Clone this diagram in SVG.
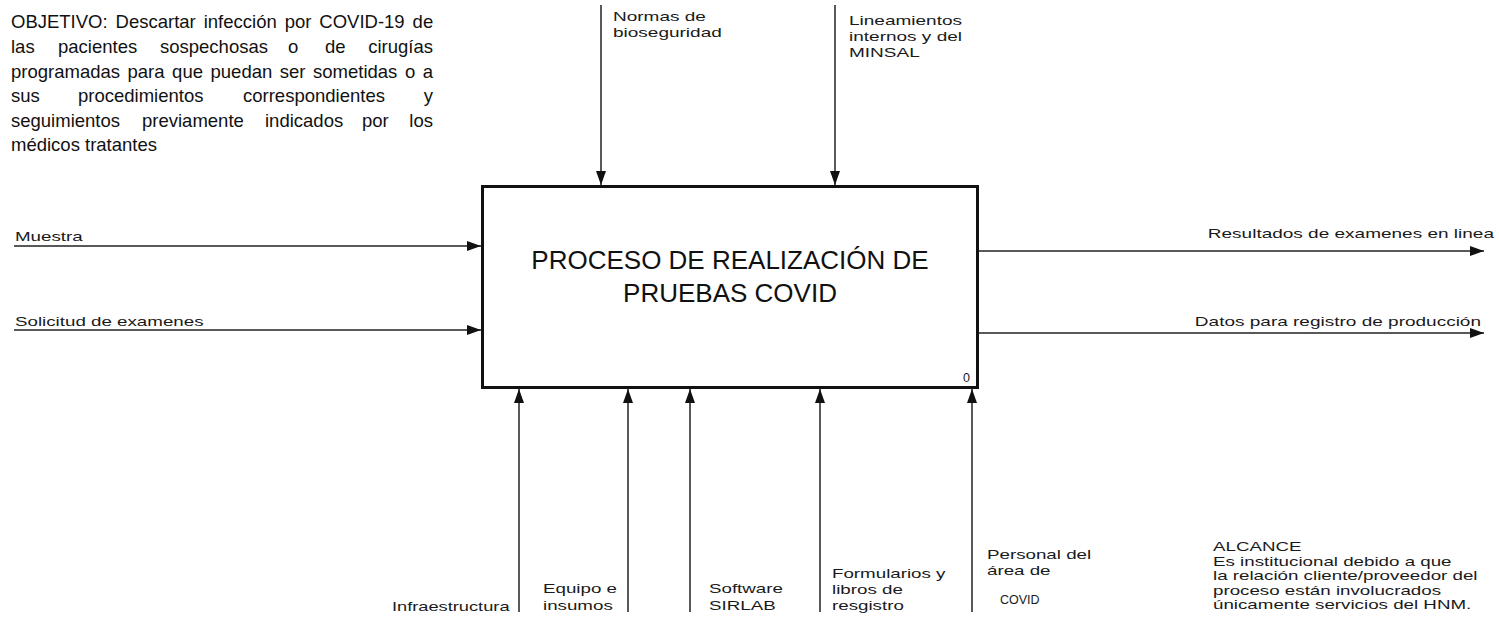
<svg xmlns="http://www.w3.org/2000/svg" width="1499" height="624" viewBox="0 0 1499 624">
<style>
.obj{font-family:"Liberation Sans",Arial,sans-serif;font-size:18.5px;fill:#111;}
.lbl{font-family:"Liberation Sans",Arial,sans-serif;font-size:12.5px;fill:#1a1a1a;}
.title{font-family:"Liberation Sans",Arial,sans-serif;font-size:26px;fill:#111;text-anchor:middle;}
.conn{stroke:#222;stroke-width:1.5;fill:none;}
.box{fill:#fff;stroke:#111;stroke-width:3;}
</style>
<defs>
<marker id="ah" markerUnits="userSpaceOnUse" markerWidth="14" markerHeight="10" refX="14" refY="5" orient="auto" overflow="visible">
<path d="M0,0 L14,5 L0,10 z" fill="#111"/>
</marker>
</defs>
<rect width="1499" height="624" fill="#fff"/>

<g id="objetivo">
<text class="obj" x="11" y="28" word-spacing="2.8">OBJETIVO: Descartar infección por COVID-19 de</text>
<text class="obj" y="53"><tspan x="11">las</tspan><tspan x="58">pacientes</tspan><tspan x="160">sospechosas</tspan><tspan x="288">o</tspan><tspan x="325">de</tspan></text>
<text class="obj" x="433" y="53" text-anchor="end">cirugías</text>
<text class="obj" x="11" y="78" word-spacing="2.4">programadas para que puedan ser sometidas o a</text>
<text class="obj" y="102"><tspan x="11">sus</tspan><tspan x="78">procedimientos</tspan><tspan x="243">correspondientes</tspan></text>
<text class="obj" x="433" y="102" text-anchor="end">y</text>
<text class="obj" y="127"><tspan x="11">seguimientos</tspan><tspan x="142">previamente</tspan><tspan x="265">indicados</tspan><tspan x="362">por</tspan></text>
<text class="obj" x="433" y="127" text-anchor="end">los</text>
<text class="obj" x="11" y="151">médicos tratantes</text>
</g>

<g id="node-process">
<rect class="box" x="482.5" y="186.5" width="495" height="201"/>
<text class="title" x="730" y="269">PROCESO DE REALIZACIÓN DE</text>
<text class="title" x="730" y="302">PRUEBAS COVID</text>
<text class="lbl" x="963" y="382" font-size="13">0</text>
</g>

<g id="connectors">
<g id="ctrl-normas">
<line class="conn" x1="601" y1="5" x2="601" y2="185" marker-end="url(#ah)"/>
<text class="lbl" transform="translate(613 21) scale(1.52 1)"><tspan x="0" y="0">Normas de</tspan><tspan x="0" y="16">bioseguridad</tspan></text>
</g>
<g id="ctrl-lineamientos">
<line class="conn" x1="835" y1="5" x2="835" y2="185" marker-end="url(#ah)"/>
<text class="lbl" transform="translate(849 25) scale(1.52 1)"><tspan x="0" y="0">Lineamientos</tspan><tspan x="0" y="16">internos y del</tspan><tspan x="0" y="32">MINSAL</tspan></text>
</g>
<g id="in-muestra">
<line class="conn" x1="14" y1="246" x2="481" y2="246" marker-end="url(#ah)"/>
<text class="lbl" transform="translate(15 241) scale(1.5 1)">Muestra</text>
</g>
<g id="in-solicitud">
<line class="conn" x1="14" y1="330" x2="481" y2="330" marker-end="url(#ah)"/>
<text class="lbl" transform="translate(15 326) scale(1.5 1)">Solicitud de examenes</text>
</g>
<g id="out-resultados">
<line class="conn" x1="979" y1="251" x2="1484" y2="251" marker-end="url(#ah)"/>
<text class="lbl" transform="translate(1494 238) scale(1.52 1)" text-anchor="end">Resultados de examenes en linea</text>
</g>
<g id="out-datos">
<line class="conn" x1="979" y1="333" x2="1484" y2="333" marker-end="url(#ah)"/>
<text class="lbl" transform="translate(1481 326) scale(1.52 1)" text-anchor="end">Datos para registro de producción</text>
</g>
<g id="mech-infraestructura">
<line class="conn" x1="519" y1="612" x2="519" y2="389" marker-end="url(#ah)"/>
<text class="lbl" transform="translate(392 611) scale(1.46 1)">Infraestructura</text>
</g>
<g id="mech-equipo">
<line class="conn" x1="628" y1="612" x2="628" y2="389" marker-end="url(#ah)"/>
<text class="lbl" transform="translate(543 593) scale(1.5 1)"><tspan x="0" y="0">Equipo e</tspan><tspan x="0" y="17">insumos</tspan></text>
</g>
<g id="mech-software">
<line class="conn" x1="690" y1="612" x2="690" y2="389" marker-end="url(#ah)"/>
<text class="lbl" transform="translate(709 593) scale(1.5 1)"><tspan x="0" y="0">Software</tspan><tspan x="0" y="17">SIRLAB</tspan></text>
</g>
<g id="mech-formularios">
<line class="conn" x1="820" y1="612" x2="820" y2="389" marker-end="url(#ah)"/>
<text class="lbl" transform="translate(832 578) scale(1.5 1)"><tspan x="0" y="0">Formularios y</tspan><tspan x="0" y="16">libros de</tspan><tspan x="0" y="32">resgistro</tspan></text>
</g>
<g id="mech-personal">
<line class="conn" x1="972" y1="612" x2="972" y2="389" marker-end="url(#ah)"/>
<text class="lbl" transform="translate(987 559) scale(1.5 1)"><tspan x="0" y="0">Personal del</tspan><tspan x="0" y="16">área de</tspan></text>
<text class="lbl" x="1000" y="604" font-size="12">COVID</text>
</g>
</g>

<g id="alcance">
<text class="lbl" transform="translate(1213 551) scale(1.5 1)"><tspan x="0" y="0">ALCANCE</tspan><tspan x="0" y="14.6">Es institucional debido a que</tspan><tspan x="0" y="29.2">la relación cliente/proveedor del</tspan><tspan x="0" y="43.8">proceso están involucrados</tspan><tspan x="0" y="58.4">únicamente servicios del HNM.</tspan></text>
</g>
</svg>
